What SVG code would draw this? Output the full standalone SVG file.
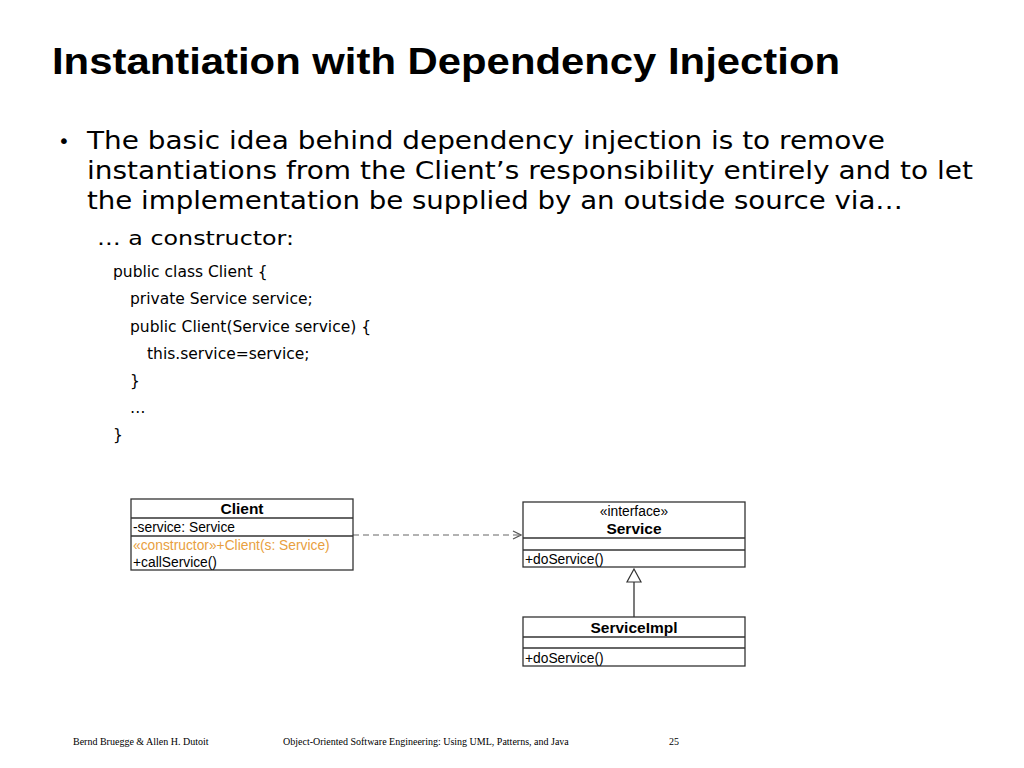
<svg xmlns="http://www.w3.org/2000/svg" width="1024" height="768" viewBox="0 0 1024 768">
<style>
.t{font-family:"Liberation Sans",Arial,sans-serif}
.v{font-family:"DejaVu Sans",Verdana,sans-serif;fill:#000}
.f{font-family:"Liberation Serif",serif;font-size:10px}
.u{font-family:"Liberation Sans",Arial,sans-serif;font-size:13.8px}
.b{fill:#fff;stroke:#333;stroke-width:1.3}
.l{stroke:#333;stroke-width:1.3}
</style>
<defs>
<marker id="open" markerWidth="10" markerHeight="10" refX="9" refY="5" orient="auto" markerUnits="userSpaceOnUse"><path d="M1,1 L9,5 L1,9" fill="none" stroke="#555" stroke-width="1.2"/></marker>
</defs>
<rect width="1024" height="768" fill="#fff"/>
<text x="52" y="74" class="t" font-size="37" font-weight="bold" textLength="788" lengthAdjust="spacingAndGlyphs">Instantiation with Dependency Injection</text>
<g class="v" font-size="25.5">
<text x="58" y="148" font-size="20">•</text>
<text x="87" y="149" textLength="798" lengthAdjust="spacingAndGlyphs">The basic idea behind dependency injection is to remove</text>
<text x="87" y="179" textLength="886" lengthAdjust="spacingAndGlyphs">instantiations from the Client’s responsibility entirely and to let</text>
<text x="87" y="209" textLength="816" lengthAdjust="spacingAndGlyphs">the implementation be supplied by an outside source via…</text>
</g>
<g class="v" font-size="19.5"><text x="97" y="245" textLength="197" lengthAdjust="spacingAndGlyphs">… a constructor:</text></g>
<g class="v" font-size="15.5">
<text x="113" y="277">public class Client {</text>
<text x="130" y="304">private Service service;</text>
<text x="130" y="332">public Client(Service service) {</text>
<text x="147" y="359">this.service=service;</text>
<text x="130" y="386">}</text>
<text x="130" y="413">…</text>
<text x="113" y="440">}</text>
</g>
<g id="connectors">
<line x1="353" y1="535" x2="521" y2="535" stroke="#999" stroke-width="1.3" stroke-dasharray="6,4" marker-end="url(#open)"/>
<line x1="634" y1="617" x2="634" y2="582" class="l"/>
<path d="M634,569 L641,582 L627,582 Z" fill="#fff" stroke="#333" stroke-width="1.2"/>
</g>
<g id="client">
<rect x="131" y="499" width="222" height="71" class="b"/>
<line x1="131" y1="518" x2="353" y2="518" class="l"/>
<line x1="131" y1="536" x2="353" y2="536" class="l"/>
<text x="242" y="514" class="t" font-size="15.5" font-weight="bold" text-anchor="middle">Client</text>
<text x="133" y="532" class="u">-service: Service</text>
<text x="133" y="550" class="u" fill="#e8a040">«constructor»+Client(s: Service)</text>
<text x="133" y="567" class="u">+callService()</text>
</g>
<g id="service">
<rect x="523" y="502" width="222" height="65" class="b"/>
<line x1="523" y1="538" x2="745" y2="538" class="l"/>
<line x1="523" y1="550" x2="745" y2="550" class="l"/>
<text x="634" y="516" class="u" font-size="12.5" text-anchor="middle">«interface»</text>
<text x="634" y="534" class="t" font-size="15.5" font-weight="bold" text-anchor="middle">Service</text>
<text x="525" y="564" class="u">+doService()</text>
</g>
<g id="serviceimpl">
<rect x="523" y="617" width="222" height="49" class="b"/>
<line x1="523" y1="637" x2="745" y2="637" class="l"/>
<line x1="523" y1="648" x2="745" y2="648" class="l"/>
<text x="634" y="633" class="t" font-size="15.5" font-weight="bold" text-anchor="middle">ServiceImpl</text>
<text x="525" y="663" class="u">+doService()</text>
</g>
<text x="73" y="745" class="f">Bernd Bruegge &amp; Allen H. Dutoit</text>
<text x="283" y="745" class="f">Object-Oriented Software Engineering: Using UML, Patterns, and Java</text>
<text x="669" y="745" class="f">25</text>
</svg>
